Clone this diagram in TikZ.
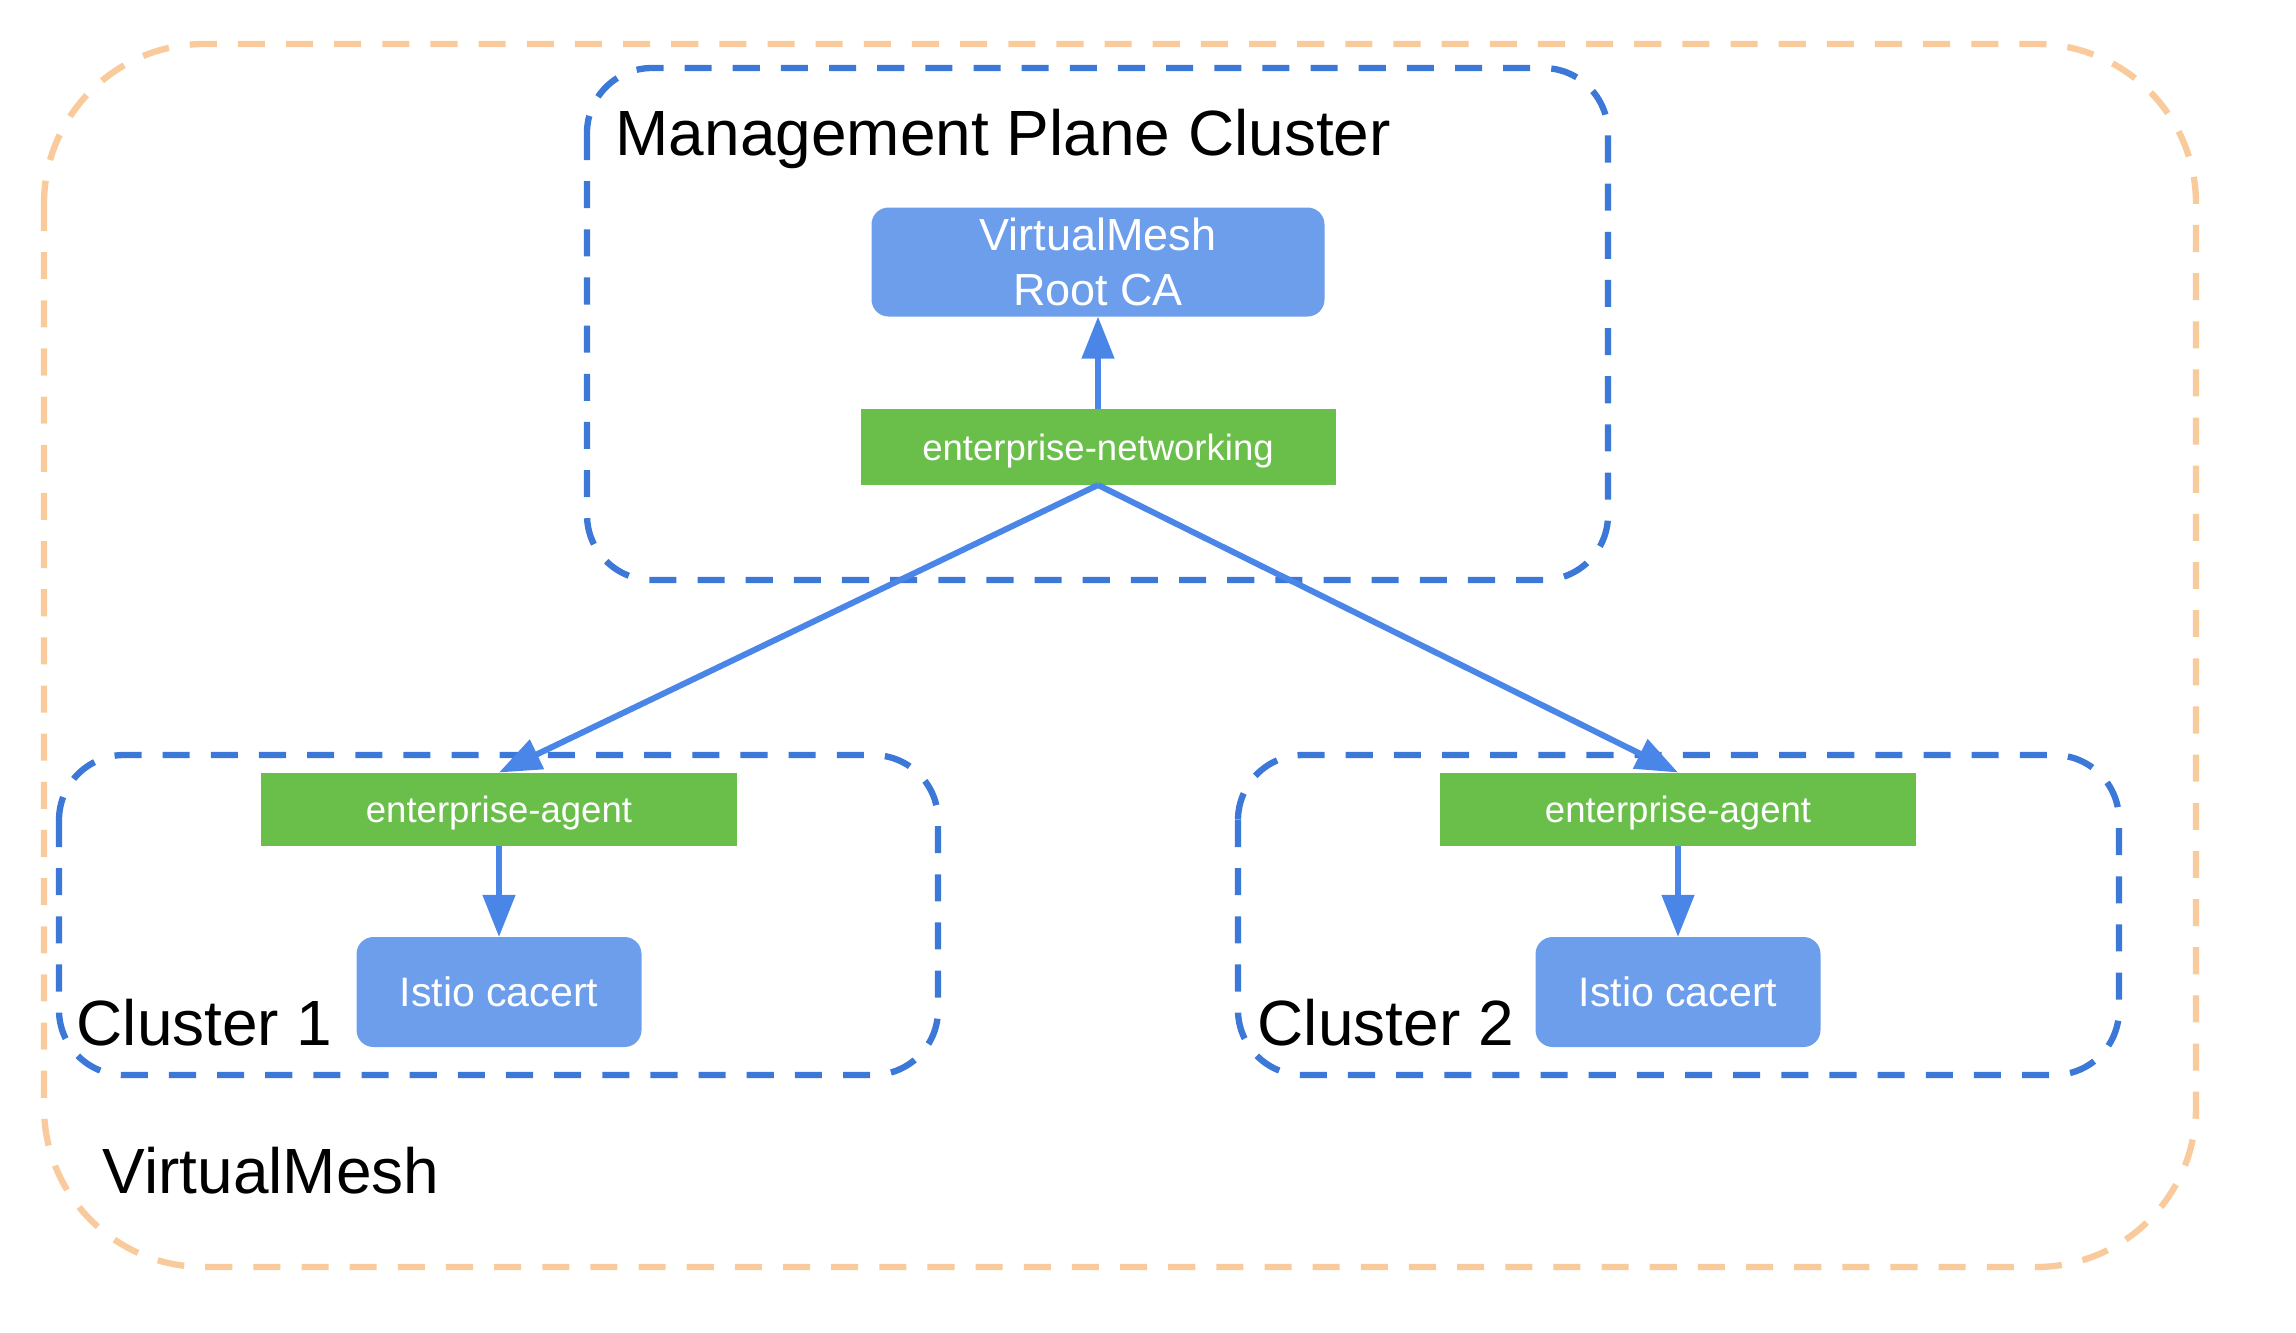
\documentclass[tikz,border=0pt]{standalone}
\usepackage{fontspec}
\setmainfont{Liberation Sans}
\usepackage{xcolor}
\definecolor{meshorange}{RGB}{249,203,156}
\definecolor{clusterblue}{RGB}{60,120,216}
\definecolor{linkblue}{RGB}{74,134,232}
\definecolor{certblue}{RGB}{109,158,235}
\definecolor{agentgreen}{RGB}{106,191,75}
\usetikzlibrary{arrows.meta}

\begin{document}
\begin{tikzpicture}[x=0.1mm,y=-0.1mm,
  mesh/.style={draw=meshorange,line width=1.8pt,dash pattern=on 7.7pt off 6pt,rounded corners=16mm},
  cluster/.style={draw=clusterblue,line width=1.8pt,dash pattern=on 7.7pt off 6pt,rounded corners=6.5mm},
  title/.style={font=\fontsize{18.2}{22}\selectfont,anchor=base west,inner sep=0},
  cert/.style={fill=certblue,text=white,rounded corners=1.7mm,inner sep=0,outer sep=0,align=center},
  agent/.style={fill=agentgreen,text=white,inner sep=0,outer sep=0,text depth=0pt,font=\fontsize{10.4}{12}\selectfont},
  link/.style={-{Triangle[length=12pt,width=9pt]},linkblue,line width=1.7pt}]
  \useasboundingbox (0,0) rectangle (2296,1332);
  % VirtualMesh and its clusters
  \draw[mesh] (44,44) rectangle (2196,1267);
  \draw[cluster] (587,68) rectangle (1608,580);
  \draw[cluster] (59,755) rectangle (938,1075);
  \draw[cluster] (1238,755) rectangle (2119,1075);
  \node[title] (meshlabel) at (102,1193) {VirtualMesh};
  \node[title] (mgmtlabel) at (615,155) {Management Plane Cluster};
  \node[title] (c1label) at (76,1045) {Cluster 1};
  \node[title] (c2label) at (1257,1045) {Cluster 2};
  % Management plane
  \node[cert,minimum width=45.3mm,minimum height=10.9mm,font=\fontsize{12.8}{15.6}\selectfont] (rootca) at (1098,262) {VirtualMesh\\Root CA};
  \node[agent,minimum width=47.5mm,minimum height=7.6mm] (networking) at (1098,447) {enterprise-networking};
  % Workload clusters
  \node[agent,minimum width=47.6mm,minimum height=7.3mm] (agent1) at (499,809) {enterprise-agent};
  \node[agent,minimum width=47.6mm,minimum height=7.3mm] (agent2) at (1678,809) {enterprise-agent};
  \node[cert,minimum width=28.5mm,minimum height=11mm,font=\fontsize{11.7}{14}\selectfont] (istio1) at (499,992) {Istio cacert};
  \node[cert,minimum width=28.5mm,minimum height=11mm,font=\fontsize{11.7}{14}\selectfont] (istio2) at (1678,992) {Istio cacert};
  % Connectors
  \draw[link] (networking.north) -- (rootca.south);
  \draw[link] (networking.south) -- (agent1.north);
  \draw[link] (networking.south) -- (agent2.north);
  \draw[link] (agent1.south) -- (istio1.north);
  \draw[link] (agent2.south) -- (istio2.north);
\end{tikzpicture}
\end{document}
